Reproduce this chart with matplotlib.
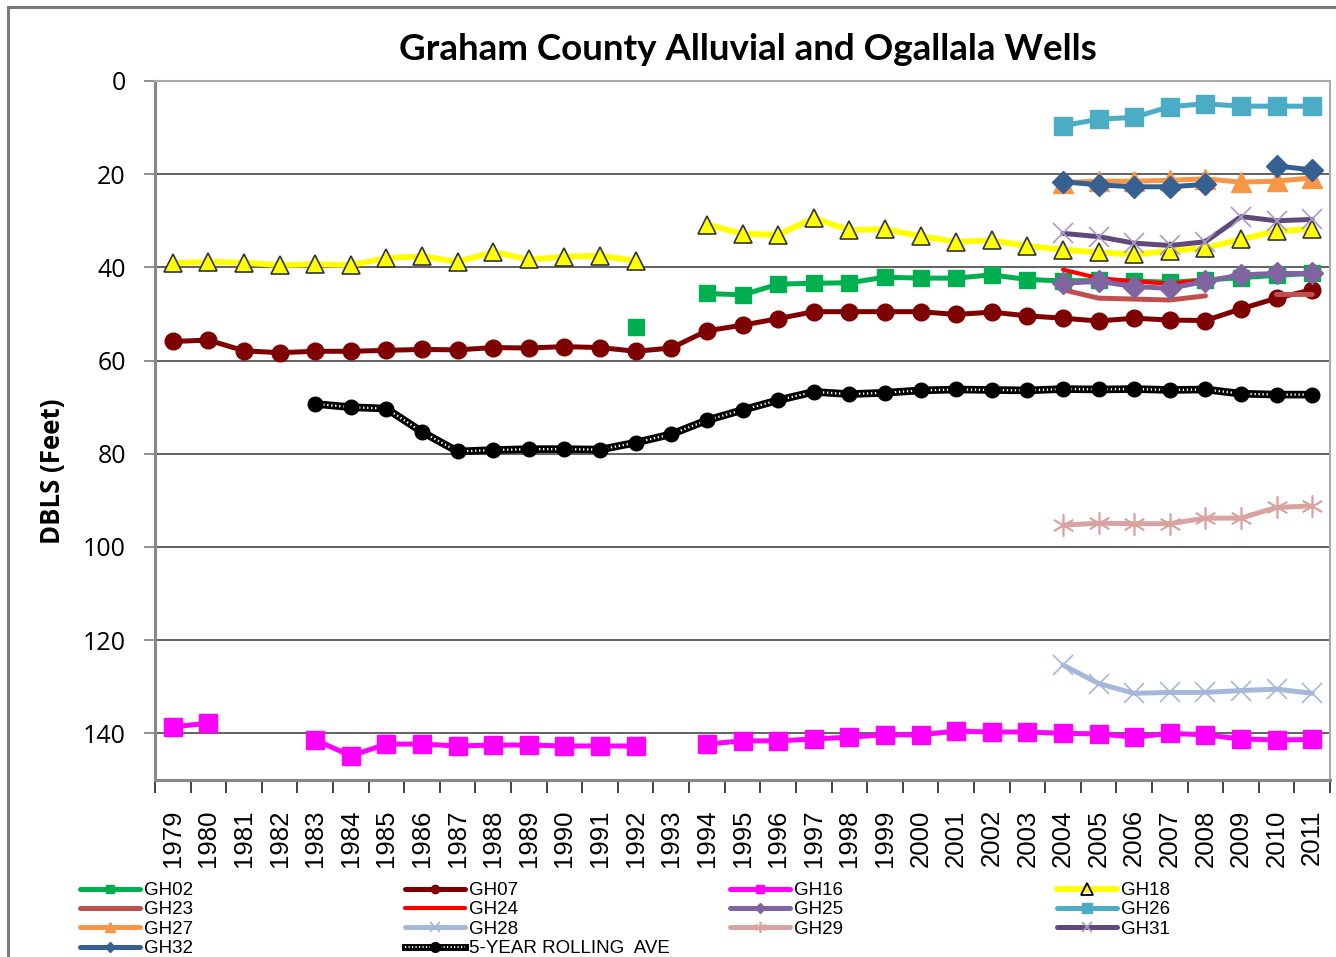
import numpy as np
import matplotlib
matplotlib.use("Agg")
import matplotlib.pyplot as plt
from matplotlib.lines import Line2D
from matplotlib.patches import Rectangle
from matplotlib.ticker import FixedLocator, NullFormatter

nan = np.nan
years = list(range(1979, 2012))

GH02 = [nan]*13 + [52.7, nan, 45.6, 45.9, 43.6, 43.4, 43.3, 42.1, 42.3, 42.3, 41.6, 42.6,
                   42.9, 42.8, 42.9, 43.2, 42.7, 42.2, 41.7, 41.3]
GH07 = [55.9, 55.6, 57.9, 58.3, 58.0, 58.0, 57.8, 57.6, 57.7, 57.2, 57.3, 57.0, 57.2, 58.0, 57.3,
        53.6, 52.4, 51.0, 49.5, 49.5, 49.5, 49.5, 50.1, 49.6, 50.4, 50.9, 51.5, 50.9, 51.3, 51.4,
        48.9, 46.6, 44.8]
GH16 = [138.6, 137.8, nan, nan, 141.4, 144.8, 142.3, 142.3, 142.7, 142.5, 142.5, 142.7, 142.7, 142.7,
        nan, 142.3, 141.6, 141.6, 141.2, 140.8, 140.3, 140.3, 139.5, 139.7, 139.7, 140.0, 140.1,
        140.8, 140.0, 140.3, 141.2, 141.4, 141.3]
GH18 = [39.1, 38.8, 39.0, 39.5, 39.3, 39.5, 38.0, 37.6, 38.8, 36.7, 38.3, 37.7, 37.5, 38.6,
        nan, 30.8, 32.8, 33.0, 29.4, 32.0, 31.8, 33.3, 34.5, 34.2, 35.4, 36.2, 36.8, 37.2, 36.5,
        35.8, 34.0, 32.2, 31.8]
# wells measured from 2004 onward (2004..2011)
GH23 = [44.8, 46.6, 46.8, 47.0, 46.1, nan, 45.8, 45.8]
GH24 = [40.5, 42.3, 43.0, 43.5, 42.7, nan, nan, nan]
GH25 = [43.4, 43.0, 44.1, 44.5, 43.0, 41.6, 41.3, 41.3]
GH26 = [9.6, 8.2, 7.8, 5.5, 4.9, 5.4, 5.4, 5.4]
GH27 = [21.8, 21.5, 21.5, 21.3, 21.0, 21.7, 21.5, 20.8]
GH28 = [125.3, 129.3, 131.4, 131.2, 131.2, 130.8, 130.5, 131.4]
GH29 = [95.3, 94.9, 95.0, 95.0, 93.8, 93.8, 91.5, 91.2]
GH31 = [32.7, 33.4, 34.8, 35.3, 34.5, 29.1, 30.0, 29.7]
GH32 = [21.6, 22.3, 22.7, 22.7, 22.2, nan, 18.2, 19.1]
# 5-year rolling average, 1983..2011
ROLL = [69.3, 70.0, 70.3, 75.3, 79.5, 79.2, 79.0, 79.0, 79.1, 77.6, 75.8, 72.8, 70.6, 68.5,
        66.7, 67.2, 66.9, 66.4, 66.2, 66.3, 66.4, 66.1, 66.2, 66.1, 66.3, 66.2, 67.1, 67.3, 67.3]

y_ticks = [0, 20, 40, 60, 80, 100, 120, 140]

late = lambda v: [nan]*25 + v
rolling = [nan]*4 + ROLL
x = np.arange(len(years))

W, H = 1336, 957
fig = plt.figure(figsize=(W/100, H/100), dpi=100)
fig.patch.set_facecolor('white')
fig.patches.append(Rectangle((8/W, -0.1), 1.0, (957-7)/957 + 0.1, transform=fig.transFigure,
                             fill=False, edgecolor='#7a7a7a', lw=2.2, zorder=0))

ax = fig.add_axes([155/W, 1-780/H, (1330-155)/W, (780-81)/H])

lw = 3.6
specs = [
    ('GH02', GH02, dict(color='#00b050', marker='s', ms=11.5, mec='#00b050')),
    ('GH07', GH07, dict(color='#7f0000', marker='o', ms=12, mec='#7f0000')),
    ('GH16', GH16, dict(color='#ff00ff', marker='s', ms=12.5, mec='#ff00ff')),
    ('GH18', GH18, dict(color='#ffff00', lw=4.2, marker='^', ms=13, mfc='#ffff00', mec='#333333', mew=1.2)),
    ('GH23', late(GH23), dict(color='#c0504d')),
    ('GH24', late(GH24), dict(color='#ff0000', lw=3.0)),
    ('GH25', late(GH25), dict(color='#8064a2', marker='D', ms=11, mec='#8064a2')),
    ('GH26', late(GH26), dict(color='#4bacc6', marker='s', ms=13, mec='#4bacc6')),
    ('GH27', late(GH27), dict(color='#f79646', marker='^', ms=14, mec='#f79646')),
    ('GH28', late(GH28), dict(color='#a5b8d9', marker='x', ms=15, mec='#a5b8d9', mew=1.2)),
    ('GH29', late(GH29), dict(color='#d9a3a1', marker=(6, 2, 0), ms=16, mec='#d9a3a1', mew=1.2)),
    ('GH31', late(GH31), dict(color='#604a7b', marker='x', ms=15, mec='#a99bc4', mew=1.2)),
    ('GH32', late(GH32), dict(color='#376092', marker='D', ms=11, mec='#376092')),
]

handles = {}
for name, vals, st in specs:
    kw = dict(lw=lw, solid_capstyle='round', solid_joinstyle='round')
    kw.update(st)
    ax.plot(x, vals, **kw)
    hkw = dict(color=kw['color'], lw=kw['lw'], solid_capstyle='round')
    if 'marker' in kw:
        hkw.update(marker=kw['marker'], ms=kw['ms']*0.5, mec=kw.get('mec', kw['color']),
                   mfc=kw.get('mfc', kw['color']), mew=kw.get('mew', 1))
    if name == 'GH18':
        hkw.update(ms=8, mfc='none', mec='black', mew=1.3)
    handles[name] = Line2D([], [], **hkw)

# 5-year rolling average: black line with white dotted core, solid black markers on top
ax.plot(x, rolling, color='black', lw=5.5, solid_joinstyle='round', zorder=3)
ax.plot(x, rolling, color='white', lw=1.6, ls=(0, (0.6, 1.2)), zorder=3.1)
ax.plot(x, rolling, ls='none', marker='o', ms=10.5, mec='black', mfc='black', zorder=3.2)
handles['5-YEAR ROLLING  AVE'] = (Line2D([], [], color='black', lw=5),
                                  Line2D([], [], color='white', lw=1.4, ls=(0, (0.6, 1.2))),
                                  Line2D([], [], ls='none', color='black', marker='o', ms=7))

# axes styling
ax.set_ylim(150, 0)
ax.set_xlim(-0.5, len(years) - 0.5)
ax.set_yticks(y_ticks)
ax.yaxis.grid(True, color='#555555', lw=1.3)
ax.set_axisbelow(True)
ax.tick_params(axis='y', length=8, width=1.3, color='#888888', labelsize=18, pad=13)
for lab in ax.get_yticklabels():
    lab.set_fontfamily('Open Sans')

ax.xaxis.set_major_locator(FixedLocator(np.arange(-0.5, len(years), 1.0)))
ax.xaxis.set_major_formatter(NullFormatter())
ax.xaxis.set_minor_locator(FixedLocator(x))
ax.set_xticklabels([str(y) for y in years], minor=True, rotation=90, fontsize=18.5,
                   fontfamily='Liberation Sans')
ax.tick_params(axis='x', which='major', length=9, width=1.3, color='#333333', direction='out')
ax.tick_params(axis='x', which='minor', length=0, pad=21)

for s in ['left', 'bottom']:
    ax.spines[s].set_color('#888888')
    ax.spines[s].set_linewidth(2.2)
for s in ['top', 'right']:
    ax.spines[s].set_color('#aaaaaa')
    ax.spines[s].set_linewidth(1.5)

ax.set_ylabel('DBLS (Feet)', fontsize=18.5, fontweight='bold', fontfamily='Open Sans')
ax.yaxis.set_label_coords((66 - 155)/1175, 1 - (471 - 81)/699)
fig.text(748/W, 1-49/H, 'Graham County Alluvial and Ogallala Wells', ha='center', va='center',
         fontsize=26.5, fontweight='bold', fontfamily='Lato')

# legend in four columns
cols = [['GH02', 'GH23', 'GH27', 'GH32'],
        ['GH07', 'GH24', 'GH28', '5-YEAR ROLLING  AVE'],
        ['GH16', 'GH25', 'GH29'],
        ['GH18', 'GH26', 'GH31']]
col_x = [80, 405, 730, 1057]
for cx, names in zip(col_x, cols):
    fig.legend([handles[n] for n in names], names, loc='upper left',
               bbox_to_anchor=(cx/W, 1-882/H), frameon=False, borderpad=0, borderaxespad=0,
               handlelength=3.2, handletextpad=0.2, labelspacing=0.12,
               prop=dict(family=['Liberation Sans'], size=13.5))

fig.savefig('out.png', dpi=100)
